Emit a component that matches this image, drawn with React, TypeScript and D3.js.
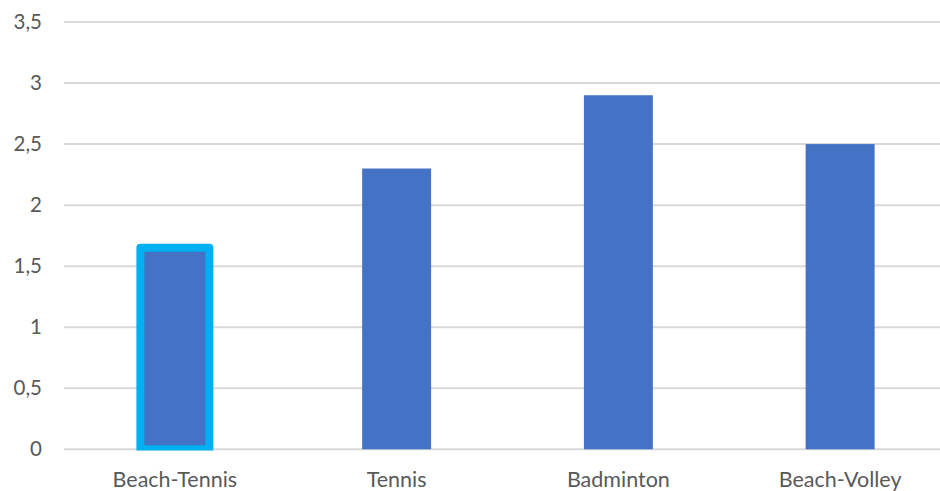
import React from "react";
import * as d3 from "d3";

const categories = ["Beach-Tennis", "Tennis", "Badminton", "Beach-Volley"];
const values = [1.65, 2.3, 2.9, 2.5];
const yTicks = [0, 0.5, 1, 1.5, 2, 2.5, 3, 3.5];
const highlighted = ["Beach-Tennis"];

export default function App() {
  const W = 940, H = 491;
  const x = d3.scaleBand<string>().domain(categories).range([64, 951]).paddingInner(0.689).paddingOuter(0.3445);
  const y = d3.scaleLinear().domain([0, 3.5]).range([449.3, 22]);
  const fmt = (v: number) => String(v).replace(".", ",");
  const font = "Lato, 'Open Sans', sans-serif";
  return (
    <svg width={W} height={H} style={{ position: "absolute", left: 0, top: 0, background: "#fff" }}>
      <defs>
        <clipPath id="plot">
          <rect x={0} y={0} width={W} height={y(0) + 1.2} />
        </clipPath>
      </defs>
      {yTicks.map((t) => (
        <g key={t}>
          <line x1={64} x2={940} y1={y(t)} y2={y(t)} stroke="#d9d9d9" strokeWidth={2} />
          <text x={42} y={y(t)} dy="0.35em" textAnchor="end" fontFamily={font} fontSize={20.5} fill="#595959">
            {fmt(t)}
          </text>
        </g>
      ))}
      {categories.map((c, i) => {
        const hl = highlighted.includes(c);
        const x0 = x(c)!;
        const bw = x.bandwidth();
        return (
          <g key={c}>
            <rect
              x={x0}
              y={y(values[i])}
              width={bw}
              height={y(0) - y(values[i])}
              fill="#4472C4"
              stroke={hl ? "#00B0F0" : "none"}
              strokeWidth={hl ? 8 : 0}
              strokeLinejoin="round"
              clipPath="url(#plot)"
            />
            <text x={x0 + bw / 2} y={487} textAnchor="middle" fontFamily={font} fontSize={21.5} fill="#595959">
              {c}
            </text>
          </g>
        );
      })}
    </svg>
  );
}
